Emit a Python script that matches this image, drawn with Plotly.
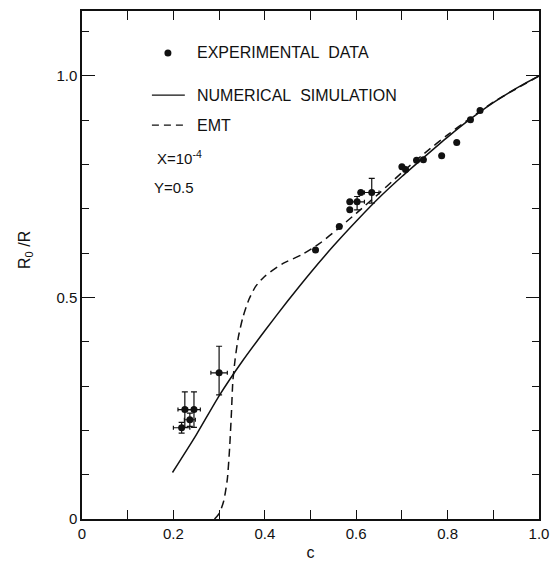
import plotly.graph_objects as go

# ---- data ----
exp_c = [0.218, 0.225, 0.236, 0.245, 0.300, 0.511, 0.563, 0.586, 0.586, 0.602,
         0.610, 0.634, 0.700, 0.708, 0.732, 0.747, 0.787, 0.820, 0.850, 0.871]
exp_r = [0.206, 0.247, 0.224, 0.247, 0.330, 0.607, 0.660, 0.698, 0.716, 0.716,
         0.737, 0.737, 0.795, 0.789, 0.810, 0.811, 0.820, 0.850, 0.901, 0.922]
err_y_plus = [0.012, 0.040, 0.015, 0.040, 0.060, 0, 0, 0, 0, 0.012,
              0, 0.032, 0, 0, 0, 0, 0, 0, 0, 0]
err_y_minus = [0.012, 0.040, 0.015, 0.040, 0.050, 0, 0, 0, 0, 0.018,
               0, 0.024, 0, 0, 0, 0, 0, 0, 0, 0]
err_x = [0.018, 0.015, 0.012, 0.014, 0.018, 0, 0, 0, 0, 0.016,
         0, 0.016, 0, 0, 0, 0, 0, 0, 0, 0]

sim_c = [0.198, 0.25, 0.30, 0.35, 0.40, 0.45, 0.50, 0.55, 0.60, 0.65,
         0.70, 0.75, 0.80, 0.85, 0.90, 0.95, 1.00]
sim_r = [0.105, 0.190, 0.278, 0.355, 0.425, 0.492, 0.556, 0.616, 0.672, 0.725,
         0.773, 0.818, 0.862, 0.903, 0.940, 0.972, 1.000]

emt_c = [0.290, 0.300, 0.310, 0.318, 0.323, 0.327, 0.330, 0.335, 0.342, 0.352,
         0.365, 0.380, 0.400, 0.440, 0.480, 0.520, 0.560, 0.600, 0.650, 0.700,
         0.750, 0.800, 0.850, 0.900, 0.950, 1.000]
emt_r = [0.000, 0.012, 0.040, 0.090, 0.160, 0.240, 0.310, 0.360, 0.410, 0.455,
         0.495, 0.525, 0.548, 0.577, 0.596, 0.622, 0.655, 0.690, 0.735, 0.782,
         0.826, 0.867, 0.905, 0.941, 0.971, 1.000]

x_tickvals = [0, 0.2, 0.4, 0.6, 0.8, 1.0]
x_ticktext = ["0", "0.2", "0.4", "0.6", "0.8", "1.0"]
y_tickvals = [0, 0.5, 1.0]
y_ticktext = ["0", "0.5", "1.0"]

legend_labels = ["EXPERIMENTAL\u00a0\u00a0DATA", "NUMERICAL\u00a0\u00a0SIMULATION", "EMT"]
params = ["X=10<sup>-4</sup>", "Y=0.5"]

FONT = "Liberation Sans, Arial, sans-serif"
INK = "#111"

fig = go.Figure()
fig.add_trace(go.Scatter(x=sim_c, y=sim_r, mode="lines",
                         line=dict(color=INK, width=1.5, shape="spline", smoothing=0.6),
                         name="NUMERICAL SIMULATION"))
fig.add_trace(go.Scatter(x=emt_c, y=emt_r, mode="lines",
                         line=dict(color=INK, width=1.5, dash="8px,5px", shape="spline", smoothing=0.6),
                         name="EMT"))
fig.add_trace(go.Scatter(x=exp_c, y=exp_r, mode="markers",
                         marker=dict(color=INK, size=7),
                         error_y=dict(type="data", array=err_y_plus, arrayminus=err_y_minus,
                                      symmetric=False, color=INK, thickness=1.2, width=3),
                         error_x=dict(type="data", array=err_x, color=INK, thickness=1.2, width=2),
                         name="EXPERIMENTAL DATA"))

# manual legend
leg_y = [1.052, 0.957, 0.889]
ann = []
for lbl, yy in zip(legend_labels, leg_y):
    ann.append(dict(x=0.247, y=yy, xref="x", yref="y", text=lbl, showarrow=False,
                    xanchor="left", yanchor="middle", font=dict(family=FONT, size=16, color=INK)))
ann.append(dict(x=0.16, y=0.815, xref="x", yref="y", text=params[0], showarrow=False,
                xanchor="left", yanchor="middle", font=dict(family=FONT, size=15, color=INK)))
ann.append(dict(x=0.153, y=0.749, xref="x", yref="y", text=params[1], showarrow=False,
                xanchor="left", yanchor="middle", font=dict(family=FONT, size=15, color=INK)))
ann.append(dict(x=-0.125, y=0.607, xref="paper", yref="y", text="R<sub>0</sub> /R", showarrow=False,
                textangle=-90, xanchor="center", yanchor="middle",
                font=dict(family=FONT, size=16, color=INK)))

shapes = [
    dict(type="circle", xref="x", yref="y", xsizemode="pixel", ysizemode="pixel",
         xanchor=0.188, yanchor=leg_y[0], x0=-3.5, x1=3.5, y0=-3.5, y1=3.5,
         fillcolor=INK, line=dict(width=0)),
    dict(type="line", xref="x", yref="y", x0=0.153, x1=0.225, y0=leg_y[1], y1=leg_y[1],
         line=dict(color=INK, width=1.3)),
    dict(type="line", xref="x", yref="y", x0=0.153, x1=0.225, y0=leg_y[2], y1=leg_y[2],
         line=dict(color=INK, width=1.3, dash="7px,5px")),
]

axis_common = dict(showgrid=False, zeroline=False, showline=True, linecolor=INK, linewidth=1.5,
                   mirror="ticks", ticks="inside", tickcolor=INK, tickwidth=1.3, automargin=False,
                   tickfont=dict(family=FONT, size=15, color=INK))

fig.update_layout(
    width=554, height=564,
    margin=dict(l=82, r=15, t=11, b=45, autoexpand=False),
    paper_bgcolor="white", plot_bgcolor="white",
    showlegend=False,
    annotations=ann, shapes=shapes,
    xaxis=dict(range=[0, 1.0], tickvals=x_tickvals, ticktext=x_ticktext, ticklen=9,
               minor=dict(dtick=0.1, tick0=0, ticks="inside", ticklen=9, tickcolor=INK, tickwidth=1.3),
               title=dict(text="c", font=dict(family=FONT, size=16, color=INK), standoff=6),
               **axis_common),
    yaxis=dict(range=[0, 1.1467], tickvals=y_tickvals, ticktext=y_ticktext, ticklen=13,
               minor=dict(dtick=0.1, tick0=0, ticks="inside", ticklen=7, tickcolor=INK, tickwidth=1.3),
               **axis_common),
)

fig.write_html("out.html", config={"displayModeBar": False},
               post_script="document.body.style.margin='0';document.body.style.padding='0';")
